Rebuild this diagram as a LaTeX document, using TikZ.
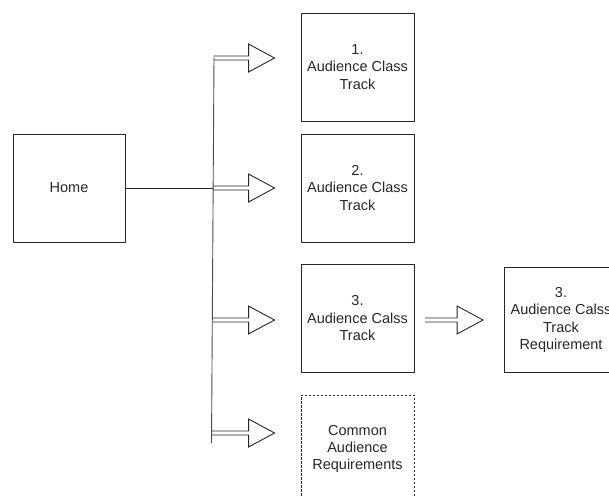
\documentclass[tikz,border=0pt]{standalone}
\usepackage{fontspec}
\setmainfont{Liberation Sans}
\usetikzlibrary{calc}
\newcommand\blockarr[3]{%
  \draw[blk] let \p1=(#1), \p2=(#2) in
    (\x1,\y1+2pt) -- (\x2-#3-26pt,\y1+2pt) -- (\x2-#3-26pt,\y1+14pt)
    -- (\x2-#3,\y1) -- (\x2-#3-26pt,\y1-14pt) -- (\x2-#3-26pt,\y1-2pt)
    -- (\x1,\y1-2pt);}
\begin{document}
\begin{tikzpicture}[x=1pt,y=-1pt,
  box/.style={draw=black!85, line width=0.9pt, minimum width=113pt,
    minimum height=108pt, align=center, inner sep=0pt, text=black!85,
    font=\fontsize{14.5}{17.4}\selectfont},
  dbox/.style={box, dash pattern=on 2.5pt off 1.5pt},
  blk/.style={draw=black!85, line width=0.9pt, line join=miter},
  ln/.style={draw=black!85, line width=0.9pt}]
\useasboundingbox (0,0) rectangle (609,496);
\clip (0,0) rectangle (609,496);
\node[box, minimum width=112pt] (home) at (69,188) {Home};
\node[box] (b1) at (357.5,67) {1.\\Audience Class\\Track};
\node[box] (b2) at (357.5,188) {2.\\Audience Class\\Track};
\node[box] (b3) at (357.5,318) {3.\\Audience Calss\\Track};
\node[dbox] (b4) at (357.5,449) {Common\\Audience\\Requirements};
\node[box, minimum height=105pt] (b5) at (561,320) {3.\\Audience Calss\\Track\\Requirement};
\coordinate (sp1) at (214,57);
\coordinate (sp4) at (211.5,443);
\coordinate (a1) at (213.5,58);
\coordinate (a2) at (213,188);
\coordinate (a3) at (212.5,320);
\coordinate (a4) at (212,433);
\coordinate (a5) at (425,320);
\draw[ln, draw=black!70] (sp1) -- (sp4);
\draw[ln] (home.east) -- (a2);
\blockarr{a1}{b1.west}{26pt}
\blockarr{a2}{b2.west}{26pt}
\blockarr{a3}{b3.west}{26pt}
\blockarr{a4}{b4.west}{26pt}
\blockarr{a5}{b5.west}{21pt}
\end{tikzpicture}
\end{document}
